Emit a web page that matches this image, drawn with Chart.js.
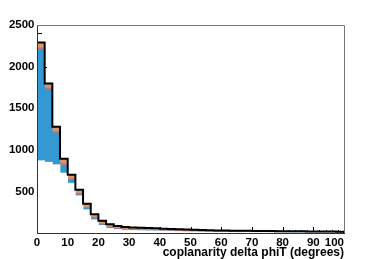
<!DOCTYPE html>
<html><head><meta charset="utf-8">
<style>html,body{margin:0;padding:0;background:#fff;} canvas{display:block;}</style>
<script src="https://cdn.jsdelivr.net/npm/chart.js@4.4.1/dist/chart.umd.min.js"></script>
</head><body>
<canvas id="c" width="382" height="259"></canvas>
<script>
// Histogram bins (lower edges, degrees) and bin width
const binLow = [0,2.5,5,7.5,10,12.5,15,17.5,20,22.5,25,27.5,30,32.5,35,37.5,40,42.5,45,47.5,
                50,52.5,55,57.5,60,62.5,65,67.5,70,72.5,75,77.5,80,82.5,85,87.5,90,92.5,95,97.5];
const binWidth = 2.5;
const xMax = 100;

// Stacked components (bottom to top)
const whiteComp  = [869,851,821,721,599,448,280,160,92,56, 43,34,31,29,27,26,23,21,18,16,
                    14,12,12,10,9,8,7,8,7,7, 6,6,5,4,4,4,4,4,3,2];
const blueComp   = [1334,872,381,92,36,12,16,12,8,6, 4,4,3,3,3,2,2,2,2,2,
                    2,2,1,1,1,1,1,1,1,1, 1,1,1,1,1,1,1,1,1,1];
const redComp    = [22,20,20,20,17,15,14,13,12,11, 10,9,9,8,8,7,7,6,6,6,
                    6,5,5,5,5,5,5,4,4,4, 4,4,4,4,4,3,3,3,3,3];
const orangeComp = [52,43,44,46,39,36,34,31,27,25, 22,21,19,18,18,17,16,15,14,14,
                    13,13,12,12,11,11,11,10,10,10, 10,9,9,9,9,9,8,8,8,8];
const greenComp  = [14,12,12,12,10,9,8,8,7,6, 6,5,5,5,4,4,4,4,4,3,
                    3,3,3,3,3,3,3,3,3,2, 2,2,2,2,2,2,2,2,2,2];

// Tick labels
const xTicks = [0,10,20,30,40,50,60,70,80,90,100];
const yTicks = [500,1000,1500,2000,2500];
const yMax = 2500;
const xMinorStep = 2, yMinorStep = 100;

const comps = [whiteComp, blueComp, redComp, orangeComp, greenComp];
const colors = ['#ffffff', 'rgb(52,152,210)', 'rgb(200,112,128)', 'rgb(214,152,104)', 'rgb(112,186,84)'];
const total = binLow.map((_, i) => comps.reduce((s, c) => s + c[i], 0));

const barSets = comps.map((c, k) => ({
  type: 'bar',
  data: c.map((v, i) => ({x: binLow[i] + binWidth / 2, y: v})),
  backgroundColor: colors[k],
  borderWidth: 0,
  barPercentage: 1,
  categoryPercentage: 1,
  order: 1
}));

const outline = [{x: 0, y: 0}]
  .concat(binLow.map((b, i) => ({x: b, y: total[i]})))
  .concat([{x: xMax, y: 0}]);

const font = {family: '"Liberation Sans", Arial, Helvetica, sans-serif', weight: 'bold', size: 11.5};

const rootTicks = {
  id: 'rootTicks',
  beforeDatasetsDraw(chart) {
    const {ctx, chartArea: a, scales: {x, y}} = chart;
    ctx.save();
    ctx.strokeStyle = '#000';
    ctx.lineWidth = 1;
    ctx.beginPath();
    for (let v = 0; v <= xMax; v += xMinorStep) {
      const px = Math.round(x.getPixelForValue(v)) + 0.5;
      const len = (v % 10 === 0) ? 6 : 3;
      ctx.moveTo(px, a.bottom); ctx.lineTo(px, a.bottom - len);
    }
    for (let v = 0; v <= yMax; v += yMinorStep) {
      const py = Math.round(y.getPixelForValue(v)) + 0.5;
      const len = (v % 500 === 0) ? 10 : 5;
      ctx.moveTo(a.left, py); ctx.lineTo(a.left + len, py);
    }
    ctx.stroke();
    ctx.restore();
  },
  beforeDraw(chart) {
    try {
      const items = chart.scales.x.getLabelItems();
      const last = items[items.length - 1];
      if (last && last.options) last.options.textAlign = 'right';
    } catch (e) {}
  },
  afterDraw(chart) {
    const {ctx, chartArea: a} = chart;
    ctx.save();
    ctx.strokeStyle = '#777';
    ctx.lineWidth = 1;
    ctx.beginPath();
    ctx.moveTo(a.left, Math.round(a.top) + 0.5);
    ctx.lineTo(Math.round(a.right) + 0.5, Math.round(a.top) + 0.5);
    ctx.lineTo(Math.round(a.right) + 0.5, a.bottom);
    ctx.stroke();
    ctx.restore();
  }
};

new Chart(document.getElementById('c'), {
  type: 'bar',
  data: {
    datasets: barSets.concat([{
      type: 'line',
      data: outline,
      stepped: 'before',
      borderColor: '#000',
      borderWidth: 2,
      pointRadius: 0,
      fill: false,
      order: 0
    }])
  },
  options: {
    responsive: false,
    animation: false,
    devicePixelRatio: 1,
    layout: {padding: {top: 25, right: 38, left: 0, bottom: 0}},
    plugins: {legend: {display: false}, tooltip: {enabled: false}},
    scales: {
      x: {
        type: 'linear', min: 0, max: xMax, offset: false, stacked: true,
        grid: {display: false, offset: false, drawTicks: false},
        border: {display: true, color: '#333', width: 1, z: 1},
        afterBuildTicks: s => { s.ticks = xTicks.map(v => ({value: v})); },
        afterFit: s => { s.height = 26; },
        ticks: {font, color: '#000', padding: 3, maxRotation: 0, autoSkip: false,
                callback: v => String(v)},
        title: {display: true, text: 'coplanarity delta phiT (degrees)', align: 'end',
                color: '#000', padding: 0,
                font: {family: font.family, weight: 'bold', size: 12, lineHeight: 1}}
      },
      y: {
        type: 'linear', min: 0, max: yMax, stacked: true,
        grid: {display: false, drawTicks: false},
        border: {display: true, color: '#333', width: 1, z: 1},
        afterBuildTicks: s => { s.ticks = yTicks.map(v => ({value: v})); },
        afterFit: s => { s.width = 37; },
        ticks: {font, color: '#000', padding: 2.5, autoSkip: false,
                callback: v => String(v)}
      }
    }
  },
  plugins: [rootTicks]
});
</script>
</body></html>
